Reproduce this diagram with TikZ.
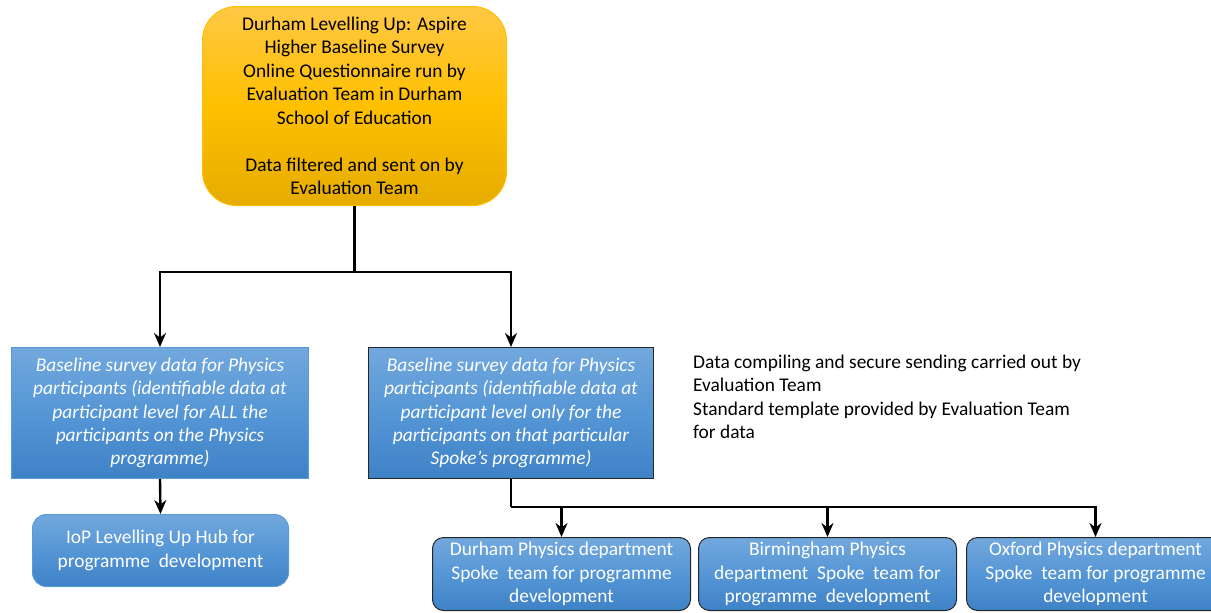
\documentclass[tikz,border=0pt]{standalone}
\usepackage{fontspec}
\setmainfont{Carlito}
\usetikzlibrary{arrows.meta}
\definecolor{ortop}{HTML}{FFC845}
\definecolor{ormid}{HTML}{FFC000}
\definecolor{orbot}{HTML}{E5AC00}
\definecolor{orline}{HTML}{FFC000}
\definecolor{bltop}{HTML}{72A8DD}
\definecolor{blmid}{HTML}{5596D6}
\definecolor{blbot}{HTML}{3E82C6}
\definecolor{blline}{HTML}{5B9BD5}
\tikzset{
  topbox/.style={draw=orline, line width=1pt, rounded corners=34pt, top color=ortop, bottom color=orbot, middle color=ormid,
    anchor=north west, align=center, inner sep=0pt, font=\fontsize{19.4}{23.5}\selectfont},
  bluebox/.style={draw=blline, line width=1pt, top color=bltop, bottom color=blbot, middle color=blmid,
    anchor=north west, align=center, inner sep=0pt, text=white},
  spoke/.style={bluebox, draw=black!85, rounded corners=11pt, minimum width=258pt, minimum height=73pt,
    font=\fontsize{19.4}{23.3}\selectfont},
  conn/.style={line width=2.4pt, black},
  arr/.style={conn, -{Stealth[length=14pt,width=12pt]}},
}
\begin{document}
\begin{tikzpicture}[x=1pt,y=-1pt]
\useasboundingbox (0,0) rectangle (1211,613);
\node[topbox, minimum width=304pt, minimum height=199pt] (top) at (202,6)
  {Durham Levelling Up: Aspire\\Higher Baseline Survey\\Online Questionnaire run by\\Evaluation Team in Durham\\School of Education\\[23.5pt]Data filtered and sent on by\\Evaluation Team};
\node[bluebox, minimum width=297pt, minimum height=131pt, font=\itshape\fontsize{19.4}{23.3}\selectfont] (left) at (11,347)
  {Baseline survey data for Physics\\participants (identifiable data at\\participant level for ALL the\\participants on the Physics\\programme)};
\node[bluebox, draw=black!85, minimum width=285pt, minimum height=131pt, font=\itshape\fontsize{19.4}{23.3}\selectfont] (mid) at (368,347)
  {Baseline survey data for Physics\\participants (identifiable data at\\participant level only for the\\participants on that particular\\Spoke’s programme)};
\node[bluebox, rounded corners=14pt, minimum width=256pt, minimum height=72pt, font=\fontsize{19.4}{23.5}\selectfont] (iop) at (32,514)
  {IoP Levelling Up Hub for\\programme\ \ development};
\node[spoke] (dur) at (432,537) {Durham Physics department\\Spoke\ \ team for programme\\development};
\node[spoke] (bir) at (698,537) {Birmingham Physics\\department\ \ Spoke\ \ team for\\programme\ \ development};
\node[spoke] (oxf) at (966,537) {Oxford Physics department\\Spoke\ \ team for programme\\development};
\node[anchor=north west, align=left, inner sep=0pt, font=\fontsize{19.4}{23.3}\selectfont] (note) at (693,355)
  {Data compiling and secure sending carried out by\\Evaluation Team\\Standard template provided by Evaluation Team\\for data};
\coordinate (j1) at (top.south |- 0,272);
\coordinate (j2) at (mid.south |- 0,507);
\draw[conn] (top.south) -- (j1);
\draw[arr] (j1) -| (left.north);
\draw[arr] (j1) -| (mid.north);
\draw[arr] (left.south) -- (iop.north);
\draw[conn] (mid.south) -- (j2);
\draw[arr] (j2) -| (dur.north);
\draw[arr] (j2) -| (bir.north);
\draw[arr] (j2) -| (oxf.north);
\end{tikzpicture}
\end{document}
